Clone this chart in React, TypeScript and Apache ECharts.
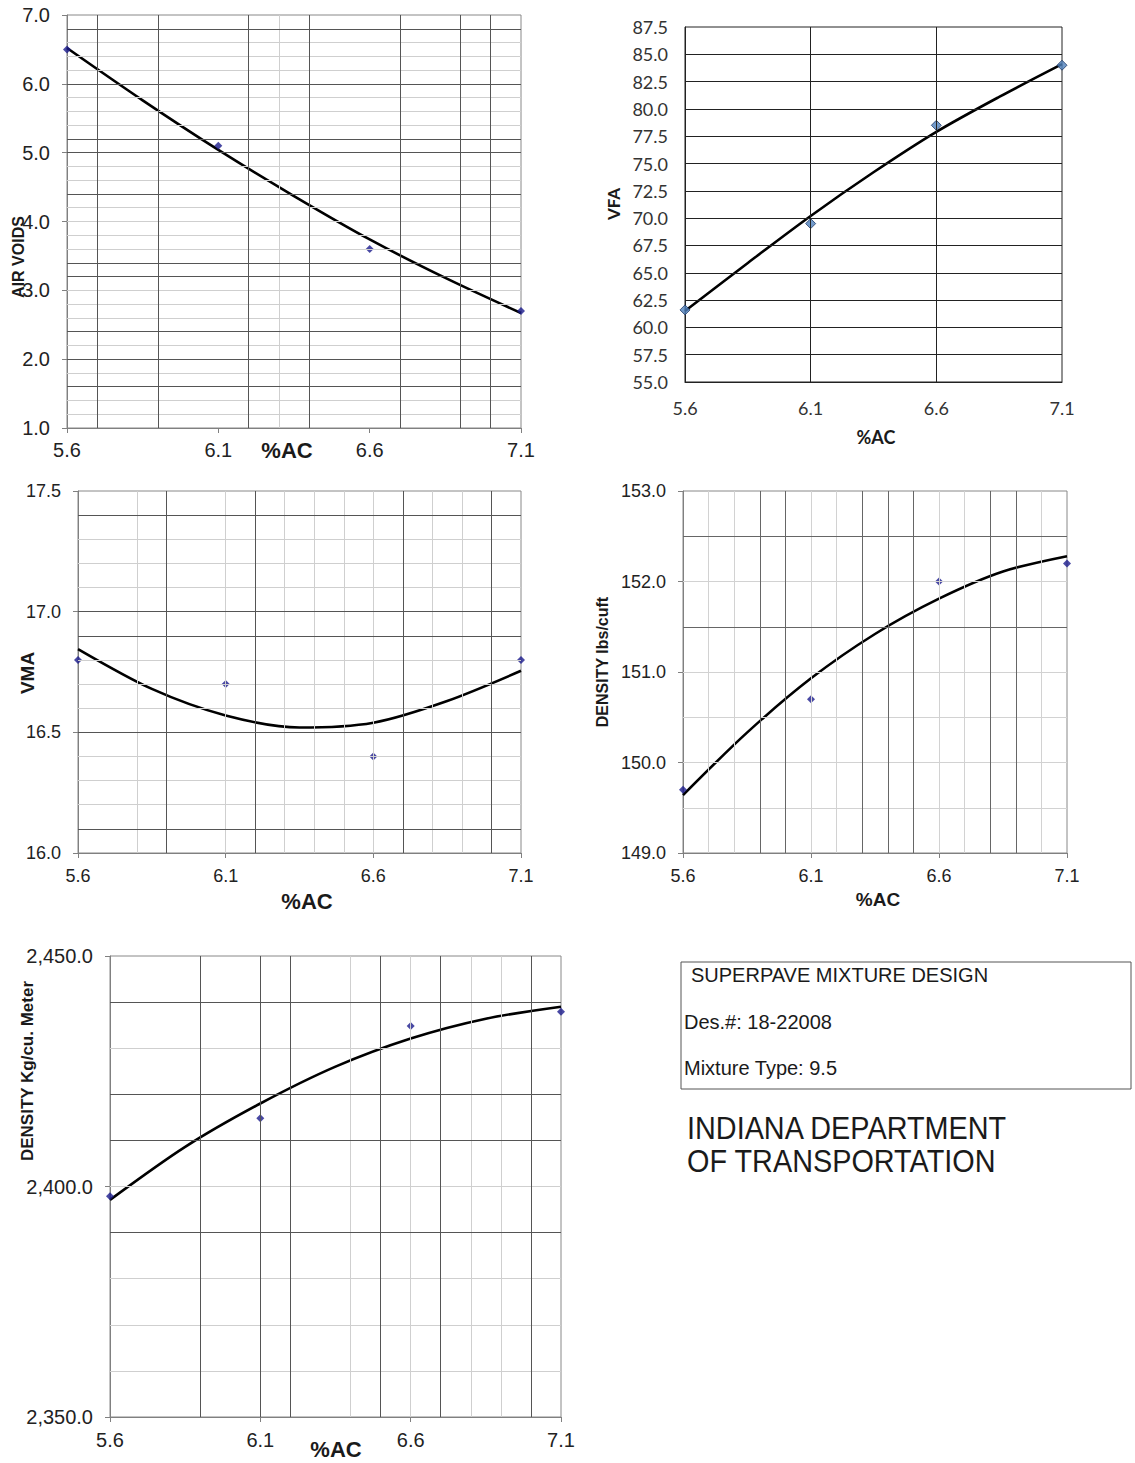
import React, { useEffect, useRef } from "react";
import * as echarts from "echarts";

// ---- Data ----
const acPercent = [5.6, 6.1, 6.6, 7.1];
const acTickLabels = [5.6, 6.1, 6.6, 7.1];
const fitX = [5.6, 5.85, 6.1, 6.35, 6.6, 6.85, 7.1];

const airVoids = [6.5, 5.1, 3.6, 2.7];
const airVoidsFit = [6.52, 5.76, 5.04, 4.37, 3.74, 3.18, 2.67];

const vfa = [61.6, 69.5, 78.5, 84.0];
const vfaFit = [61.5, 65.9, 70.2, 74.2, 77.9, 81.1, 84.1];

const vma = [16.8, 16.7, 16.4, 16.8];
const vmaFit = [16.845, 16.68, 16.57, 16.52, 16.54, 16.63, 16.755];

const densityLbs = [149.7, 150.7, 152.0, 152.2];
const densityLbsFit = [149.64, 150.33, 150.93, 151.42, 151.81, 152.11, 152.28];

const densityKg = [2397.9, 2414.8, 2434.8, 2437.9];
const densityKgFit = [2397.1, 2408.6, 2418.0, 2426.0, 2432.1, 2436.4, 2439.0];

// gridline positions
const avGridYDark = [6.8, 6.0, 5.2, 5.0, 4.4, 3.4, 3.2, 2.4, 2.0, 1.6];
const avGridYLight = [6.6, 6.4, 6.2, 5.8, 5.6, 5.4, 4.8, 4.6, 4.2, 4.0, 3.8, 3.6, 3.0, 2.8, 2.6, 2.2, 1.8, 1.4, 1.2];
const avGridXDark = [5.7, 5.9, 6.2, 6.4, 6.7, 6.9, 7.0];
const avGridXLight = [6.3];

const vfaGridY = [57.5, 60, 62.5, 65, 67.5, 70, 72.5, 75, 77.5, 80, 82.5, 85];
const vfaGridX = [6.1, 6.6];

const vmaGridYDark = [17.4, 17.0, 16.9, 16.5, 16.1];
const vmaGridYLight = [17.3, 17.2, 17.1, 16.8, 16.7, 16.6, 16.4, 16.3, 16.2];
const vmaGridXDark = [5.9, 6.2, 6.7, 7.0];
const vmaGridXLight = [5.8, 6.1, 6.3, 6.4, 6.5, 6.6, 6.8, 6.9];

const lbsGridYDark = [152.5, 151.5];
const lbsGridYLight = [152.0, 151.0, 150.5, 150.0, 149.5];
const lbsGridXDark = [5.9, 6.0, 6.3, 6.4, 6.5, 6.8, 6.9];
const lbsGridXLight = [5.7, 5.8, 6.1, 6.2, 6.6, 6.7, 7.0];

const kgGridYDark = [2440, 2420, 2410, 2390];
const kgGridYLight = [2430, 2400, 2380, 2370, 2360];
const kgGridXDark = [5.9, 6.1, 6.2, 6.5, 6.7, 7.0];
const kgGridXLight = [6.4, 6.6, 6.8, 6.9];

const FONT = '"Liberation Sans", Arial, sans-serif';
const FONT2 = 'Lato, "Open Sans", sans-serif';

const specs = [
  {
    grid: { left: 67, top: 15, width: 454, height: 413 },
    yMin: 1, yMax: 7, yInt: 1, yFmt: (v: number) => v.toFixed(1),
    points: airVoids, fit: airVoidsFit,
    yDark: avGridYDark, yLight: avGridYLight, xDark: avGridXDark, xLight: avGridXLight,
    font: FONT, fontSize: 20, labelColor: "#222", xMargin: 12, yMargin: 17,
    dark: "#555", light: "#cfcfcf", border: "#888", axis: "#808080", tick: true,
    mSize: 8, mColor: "#1a1a8c", mBorder: "#1a1a8c", mBw: 0,
  },
  {
    grid: { left: 685, top: 27, width: 377, height: 355 },
    yMin: 55, yMax: 87.5, yInt: 2.5, yFmt: (v: number) => v.toFixed(1),
    points: vfa, fit: vfaFit,
    yDark: vfaGridY, yLight: [], xDark: vfaGridX, xLight: [],
    font: FONT2, fontSize: 18, labelColor: "#333", xMargin: 17, yMargin: 17,
    dark: "#222", light: "#222", border: "#222", axis: "#222", tick: false,
    mSize: 10, mColor: "#4f81bd", mBorder: "#1f3a66", mBw: 1,
  },
  {
    grid: { left: 78, top: 491, width: 443, height: 362 },
    yMin: 16, yMax: 17.5, yInt: 0.5, yFmt: (v: number) => v.toFixed(1),
    points: vma, fit: vmaFit,
    yDark: vmaGridYDark, yLight: vmaGridYLight, xDark: vmaGridXDark, xLight: vmaGridXLight,
    font: FONT, fontSize: 18, labelColor: "#222", xMargin: 14, yMargin: 17,
    dark: "#555", light: "#cfcfcf", border: "#888", axis: "#808080", tick: true,
    mSize: 8, mColor: "#1a1a8c", mBorder: "#1a1a8c", mBw: 0,
  },
  {
    grid: { left: 683, top: 491, width: 384, height: 362 },
    yMin: 149, yMax: 153, yInt: 1, yFmt: (v: number) => v.toFixed(1),
    points: densityLbs, fit: densityLbsFit,
    yDark: lbsGridYDark, yLight: lbsGridYLight, xDark: lbsGridXDark, xLight: lbsGridXLight,
    font: FONT, fontSize: 18, labelColor: "#222", xMargin: 14, yMargin: 17,
    dark: "#666", light: "#d2d2d2", border: "#888", axis: "#808080", tick: true,
    mSize: 8, mColor: "#1a1a8c", mBorder: "#1a1a8c", mBw: 0,
  },
  {
    grid: { left: 110, top: 956, width: 451, height: 461 },
    yMin: 2350, yMax: 2450, yInt: 50,
    yFmt: (v: number) => v.toLocaleString("en-US", { minimumFractionDigits: 1, maximumFractionDigits: 1 }),
    points: densityKg, fit: densityKgFit,
    yDark: kgGridYDark, yLight: kgGridYLight, xDark: kgGridXDark, xLight: kgGridXLight,
    font: FONT, fontSize: 20, labelColor: "#222", xMargin: 13, yMargin: 17,
    dark: "#555", light: "#cfcfcf", border: "#888", axis: "#808080", tick: true,
    mSize: 8, mColor: "#1a1a8c", mBorder: "#1a1a8c", mBw: 0,
  },
];

function txt(text: string, x: number, y: number, font: string, opts: any = {}) {
  return {
    type: "text",
    x,
    y,
    rotation: opts.rotation || 0,
    scaleX: opts.scaleX || 1,
    style: {
      text,
      font,
      fill: opts.fill || "#1a1a1a",
      align: opts.align || "center",
      verticalAlign: "middle",
    },
  };
}

export default function App() {
  const ref = useRef<HTMLDivElement>(null);
  useEffect(() => {
    document.body.style.margin = "0";
    if (!ref.current) return;
    const chart = echarts.init(ref.current, undefined, { renderer: "svg" });

    const grids = specs.map((s) => ({ ...s.grid, show: true, borderColor: s.border, borderWidth: 1, backgroundColor: "#fff" }));
    const xAxes = specs.map((s, i) => ({
      type: "value",
      gridIndex: i,
      min: 5.6,
      max: 7.1,
      axisLine: { show: true, onZero: false, lineStyle: { color: s.axis } },
      axisTick: { show: s.tick, customValues: acTickLabels, length: 5, lineStyle: { color: s.axis } },
      axisLabel: {
        customValues: acTickLabels,
        formatter: (v: number) => v.toFixed(1),
        fontSize: s.fontSize,
        fontFamily: s.font,
        color: s.labelColor,
        margin: s.xMargin,
      },
      splitLine: { show: false },
    }));
    const yAxes = specs.map((s, i) => ({
      type: "value",
      gridIndex: i,
      min: s.yMin,
      max: s.yMax,
      interval: s.yInt,
      axisLine: { show: true, onZero: false, lineStyle: { color: s.axis } },
      axisTick: { show: s.tick, length: 5, lineStyle: { color: s.axis } },
      axisLabel: {
        formatter: s.yFmt,
        fontSize: s.fontSize,
        fontFamily: s.font,
        color: s.labelColor,
        margin: s.yMargin,
      },
      splitLine: { show: false },
    }));

    const series: any[] = [];
    specs.forEach((s, i) => {
      const ml = [
        ...s.yLight.map((v) => ({ yAxis: v, lineStyle: { color: s.light } })),
        ...s.xLight.map((v) => ({ xAxis: v, lineStyle: { color: s.light } })),
        ...s.yDark.map((v) => ({ yAxis: v, lineStyle: { color: s.dark } })),
        ...s.xDark.map((v) => ({ xAxis: v, lineStyle: { color: s.dark } })),
      ];
      series.push({
        type: "line",
        xAxisIndex: i,
        yAxisIndex: i,
        data: [],
        z: 1,
        silent: true,
        markLine: {
          silent: true,
          symbol: ["none", "none"],
          label: { show: false },
          lineStyle: { type: "solid", width: 1 },
          emphasis: { disabled: true },
          data: ml,
        },
      });
      series.push({
        type: "line",
        xAxisIndex: i,
        yAxisIndex: i,
        data: fitX.map((x, j) => [x, s.fit[j]]),
        smooth: 0.3,
        showSymbol: false,
        symbol: "none",
        lineStyle: { color: "#000", width: 2.6 },
        z: 3,
        silent: true,
      });
      series.push({
        type: "scatter",
        xAxisIndex: i,
        yAxisIndex: i,
        data: acPercent.map((x, j) => [x, s.points[j]]),
        symbol: "diamond",
        symbolSize: s.mSize,
        itemStyle: { color: s.mColor, borderColor: s.mBorder, borderWidth: s.mBw },
        z: 4,
        silent: true,
      });
    });

    const graphic: any[] = [
      txt("%AC", 287, 450, `bold 22px ${FONT}`),
      txt("AIR VOIDS", 18, 257, `bold 16px ${FONT}`, { rotation: Math.PI / 2 }),
      txt("%AC", 876, 437, `bold 18px ${FONT2}`),
      txt("VFA", 613, 204, `bold 17px ${FONT2}`, { rotation: Math.PI / 2 }),
      txt("%AC", 307, 901, `bold 22px ${FONT}`),
      txt("VMA", 27, 673, `bold 19px ${FONT}`, { rotation: Math.PI / 2 }),
      txt("%AC", 878, 899, `bold 19px ${FONT}`),
      txt("DENSITY lbs/cuft", 602, 662, `bold 16px ${FONT}`, { rotation: Math.PI / 2 }),
      txt("%AC", 336, 1449, `bold 22px ${FONT}`),
      txt("DENSITY Kg/cu. Meter", 27, 1071, `bold 17px ${FONT}`, { rotation: Math.PI / 2 }),
      {
        type: "rect",
        shape: { x: 681, y: 962, width: 450, height: 127 },
        style: { fill: "none", stroke: "#555", lineWidth: 1 },
      },
      txt("SUPERPAVE MIXTURE DESIGN", 691, 975, `20px ${FONT}`, { align: "left" }),
      txt("Des.#: 18-22008", 684, 1022, `20px ${FONT}`, { align: "left" }),
      txt("Mixture Type: 9.5", 684, 1068, `20px ${FONT}`, { align: "left" }),
      txt("INDIANA DEPARTMENT", 687, 1128, `31px ${FONT}`, { align: "left", scaleX: 0.93 }),
      txt("OF TRANSPORTATION", 687, 1161, `31px ${FONT}`, { align: "left", scaleX: 0.93 }),
    ];

    chart.setOption({
      animation: false,
      backgroundColor: "#fff",
      grid: grids,
      xAxis: xAxes,
      yAxis: yAxes,
      series,
      graphic,
    });
    return () => chart.dispose();
  }, []);
  return <div ref={ref} style={{ width: 1135, height: 1463 }} />;
}
